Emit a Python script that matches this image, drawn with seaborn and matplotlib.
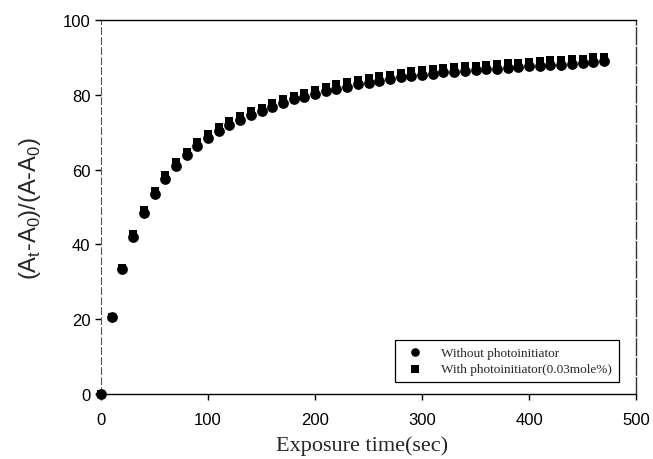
import matplotlib
matplotlib.use("Agg")
import matplotlib.pyplot as plt
import seaborn as sns
import pandas as pd

times = [0, 10, 20, 30, 40, 50, 60, 70, 80, 90, 100, 110, 120, 130, 140, 150,
         160, 170, 180, 190, 200, 210, 220, 230, 240, 250, 260, 270, 280, 290,
         300, 310, 320, 330, 340, 350, 360, 370, 380, 390, 400, 410, 420, 430,
         440, 450, 460, 470]
without_pi = [0, 20.6, 33.5, 41.9, 48.5, 53.4, 57.5, 60.9, 63.8, 66.4, 68.5, 70.3,
              71.9, 73.2, 74.6, 75.6, 76.8, 77.9, 78.8, 79.5, 80.2, 81.0, 81.6, 82.2,
              82.8, 83.2, 83.8, 84.2, 84.7, 85.1, 85.4, 85.6, 86.0, 86.1, 86.4, 86.5,
              86.9, 87.0, 87.2, 87.4, 87.6, 87.8, 88.0, 88.1, 88.3, 88.5, 88.8, 89.0]
with_pi = [0, 20.6, 33.6, 42.7, 49.3, 54.4, 58.5, 61.9, 64.8, 67.4, 69.5, 71.3,
           72.9, 74.2, 75.6, 76.6, 77.8, 78.9, 79.8, 80.5, 81.2, 82.2, 82.8, 83.4,
           84.0, 84.4, 85.0, 85.4, 85.9, 86.3, 86.6, 86.8, 87.2, 87.3, 87.6, 87.7,
           88.1, 88.2, 88.4, 88.6, 88.8, 89.0, 89.2, 89.3, 89.5, 89.7, 90.0, 90.2]
series_labels = ["Without photoinitiator", "With photoinitiator(0.03mole%)"]
x_ticks = [0, 100, 200, 300, 400, 500]
y_ticks = [0, 20, 40, 60, 80, 100]

sns.set_style("ticks")
plt.rcParams['font.family'] = ['Liberation Sans', 'DejaVu Sans']

fig = plt.figure(figsize=(6.53, 4.6), dpi=100)
ax = fig.add_axes([101/653, 1-395/460, (636-101)/653, (395-21)/460])

df1 = pd.DataFrame({"t": times, "v": without_pi})
df2 = pd.DataFrame({"t": times, "v": with_pi})
sns.scatterplot(data=df1, x="t", y="v", ax=ax, marker="o", s=60, color="black",
                edgecolor="black", linewidth=0, label=series_labels[0], clip_on=False, zorder=4)
sns.scatterplot(data=df2, x="t", y="v", ax=ax, marker="s", s=40, color="black",
                edgecolor="black", linewidth=0, label=series_labels[1], clip_on=False, zorder=3)

ax.set_xlim(0, 500)
ax.set_ylim(0, 100)
ax.set_xticks(x_ticks)
ax.set_yticks(y_ticks)
ax.tick_params(axis="both", labelsize=12, length=4, width=1, direction="out", colors="black")
ax.tick_params(axis="x", pad=9)
for sp in ax.spines.values():
    sp.set_visible(True)
    sp.set_color("black")
    sp.set_linewidth(1)
ax.spines["left"].set_color("#555555")
ax.spines["left"].set_linestyle((0, (6, 3)))
ax.spines["left"].set_linewidth(0.8)
ax.spines["right"].set_color("#333333")
ax.spines["right"].set_linestyle((0, (12, 2)))

ax.set_xlabel("Exposure time(sec)", fontsize=16, family=["Liberation Serif"], va="center")
ax.xaxis.set_label_coords(0.488, (395 - 446) / 374)
ax.set_ylabel(r"(A$_\mathregular{t}$-A$_\mathregular{0}$)/(A-A$_\mathregular{0}$)", fontsize=17, labelpad=14)

leg = ax.legend(loc="lower right", bbox_to_anchor=(0.968, 0.033), borderaxespad=0,
                prop={"family": "Liberation Serif", "size": 9.5}, frameon=True,
                fancybox=False, edgecolor="black", framealpha=1, labelspacing=0.3,
                borderpad=0.5, handletextpad=1.0, markerscale=0.8)
leg.get_frame().set_linewidth(0.9)

fig.savefig("out.png", dpi=100)
